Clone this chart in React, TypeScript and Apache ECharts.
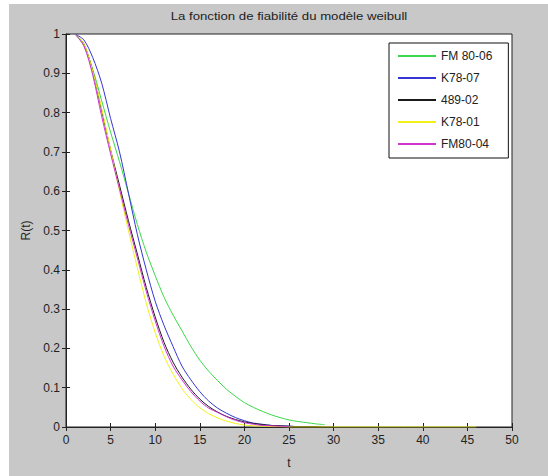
import React, { useEffect, useRef } from "react";
import * as echarts from "echarts";

const titleText = "La fonction de fiabilité du modèle weibull";
const seriesNames = ["FM 80-06", "K78-07", "489-02", "K78-01", "FM80-04"];
const seriesColors = ["#3bd84a", "#3535d2", "#1a1a1a", "#f0f01a", "#d035d0"];

const tGrid = [
  1, 2, 3, 4, 5, 6, 7, 8, 9, 10, 11, 12, 13, 14, 15, 16, 17, 18, 19, 20,
  21, 22, 23, 24, 25, 26, 27, 28, 29, 30, 35, 40, 46,
];

const rFM8006 = [
  1.0, 0.97, 0.91, 0.83, 0.75, 0.675, 0.595, 0.515, 0.445, 0.385, 0.33, 0.285,
  0.245, 0.205, 0.17, 0.142, 0.118, 0.096, 0.078, 0.062, 0.05, 0.04, 0.031,
  0.024, 0.018, 0.014, 0.011, 0.008, 0.006,
];
const rK7807 = [
  1.0, 0.985, 0.94, 0.875, 0.785, 0.7, 0.595, 0.49, 0.4, 0.32, 0.258, 0.205,
  0.155, 0.12, 0.09, 0.066, 0.048, 0.035, 0.024, 0.016, 0.01, 0.007, 0.004,
  0.003, 0.002, 0.001,
];
const r48902 = [
  1.0, 0.975, 0.905, 0.805, 0.705, 0.615, 0.525, 0.44, 0.355, 0.28, 0.215,
  0.165, 0.127, 0.096, 0.071, 0.052, 0.038, 0.027, 0.019, 0.013, 0.009, 0.006,
  0.004, 0.003, 0.002, 0.001, 0.001, 0.001, 0, 0,
];
const rK7801 = [
  1.0, 0.975, 0.905, 0.81, 0.705, 0.6, 0.5, 0.405, 0.315, 0.24, 0.18, 0.135,
  0.098, 0.07, 0.049, 0.034, 0.023, 0.015, 0.009, 0.005, 0.003, 0.002, 0.001,
  0.001, 0, 0, 0, 0, 0, 0, 0, 0, 0,
];
const rFM8004 = [
  1.0, 0.97, 0.895, 0.79, 0.695, 0.605, 0.515, 0.43, 0.345, 0.27, 0.205, 0.155,
  0.12, 0.09, 0.066, 0.048, 0.037, 0.026, 0.017, 0.011, 0.007, 0.004, 0.003,
  0.002, 0.001,
];

const xTicks = { min: 0, max: 50, interval: 5 };
const yTicks = { min: 0, max: 1, interval: 0.1 };

const FONT = "'Liberation Sans', Arial, Helvetica, sans-serif";

export default function App() {
  const ref = useRef<HTMLDivElement>(null);
  useEffect(() => {
    if (!ref.current) return;
    const chart = echarts.init(ref.current, null, { renderer: "svg" });
    const allR = [rFM8006, rK7807, r48902, rK7801, rFM8004];
    const series = allR.map((arr, i) => ({
      name: seriesNames[i],
      type: "line",
      symbol: "none",
      showSymbol: false,
      smooth: 0.3,
      xAxisIndex: 0,
      yAxisIndex: 0,
      data: arr.map((r, k) => [tGrid[k], r]),
      lineStyle: { color: seriesColors[i], width: 1 },
      itemStyle: { color: seriesColors[i] },
      z: 2 + i,
    }));
    const axisLine = { show: true, lineStyle: { color: "#222", width: 1 } };
    const tick = { show: true, inside: true, length: 4, lineStyle: { color: "#222" } };
    const label = { fontSize: 12, color: "#222", fontFamily: FONT };
    chart.setOption({
      animation: false,
      backgroundColor: "#ffffff",
      graphic: [
        {
          type: "rect",
          shape: { x: 9, y: 4, width: 539, height: 472 },
          style: { fill: "#c8c8c8" },
          z: -100,
          silent: true,
        },
        {
          type: "text",
          x: 289,
          y: 16,
          scaleX: 1.2,
          style: {
            text: titleText,
            align: "center",
            verticalAlign: "middle",
            fontSize: 11,
            fontFamily: FONT,
            fill: "#222",
          },
          z: 100,
        },
      ],
      grid: {
        left: 66,
        right: 36,
        top: 34,
        bottom: 49,
        show: true,
        backgroundColor: "#ffffff",
        borderColor: "#222",
        borderWidth: 1,
      },
      legend: {
        orient: "vertical",
        left: 389,
        top: 43,
        itemWidth: 38,
        itemHeight: 14,
        itemGap: 10,
        padding: [7, 16, 8, 8],
        backgroundColor: "#ffffff",
        borderColor: "#111",
        borderWidth: 1,
        itemStyle: { opacity: 0 },
        textStyle: { fontSize: 12, color: "#222", fontFamily: FONT },
        data: seriesNames,
      },
      xAxis: [
        {
          type: "value",
          position: "bottom",
          ...xTicks,
          axisLine,
          axisTick: tick,
          axisLabel: { ...label, margin: 7 },
          splitLine: { show: false },
          name: "t",
          nameLocation: "middle",
          nameGap: 30,
          nameTextStyle: { ...label },
        },
        {
          type: "value",
          position: "top",
          ...xTicks,
          axisLine,
          axisTick: tick,
          axisLabel: { show: false },
          splitLine: { show: false },
        },
      ],
      yAxis: [
        {
          type: "value",
          position: "left",
          ...yTicks,
          axisLine,
          axisTick: tick,
          axisLabel: { ...label, margin: 6 },
          splitLine: { show: false },
          name: "R(t)",
          nameLocation: "middle",
          nameGap: 27,
          nameTextStyle: { ...label },
        },
        {
          type: "value",
          position: "right",
          ...yTicks,
          axisLine,
          axisTick: tick,
          axisLabel: { show: false },
          splitLine: { show: false },
        },
      ],
      series,
    });
    return () => chart.dispose();
  }, []);
  return (
    <div
      ref={ref}
      style={{ position: "absolute", left: 0, top: 0, width: 548, height: 476 }}
    />
  );
}
